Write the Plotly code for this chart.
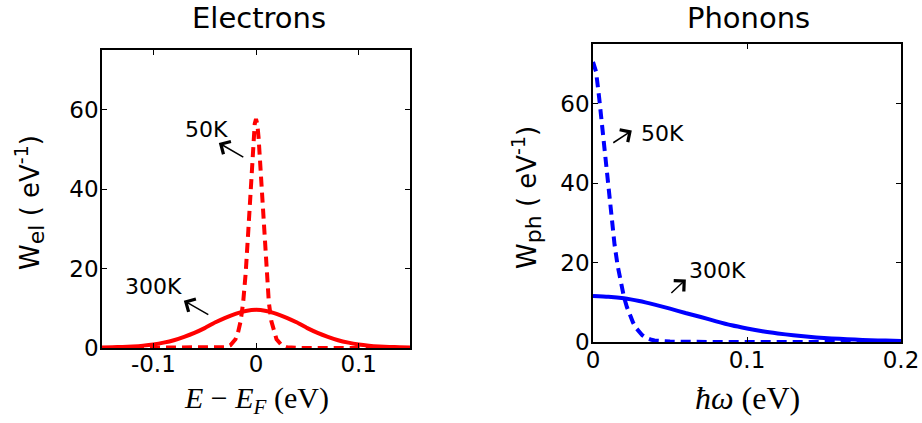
import plotly.graph_objects as go

# ---------------- data ----------------
# Electrons, 50 K (dashed)
e50_E = [-0.15, -0.06, -0.04, -0.03, -0.025, -0.02, -0.0175, -0.015, -0.0125, -0.01,
         -0.0075, -0.005, -0.0025, -0.00125, 0.0, 0.00125, 0.0025, 0.005, 0.0075, 0.01,
         0.0125, 0.015, 0.0175, 0.02, 0.025, 0.03, 0.04, 0.06, 0.15]
e50_W = [0.0, 0.0, 0.03, 0.22, 0.7, 2.2, 3.9, 6.7, 11.5, 19.0,
         29.5, 42.0, 53.0, 56.4, 57.6, 56.4, 53.0, 42.0, 29.5, 19.0,
         11.5, 6.7, 3.9, 2.2, 0.7, 0.22, 0.03, 0.0, 0.0]

# Electrons, 300 K (solid)
e300_E = [-0.15, -0.14, -0.13, -0.12, -0.11, -0.10, -0.09, -0.08, -0.07, -0.06, -0.05,
          -0.04, -0.03, -0.02, -0.01, 0.0, 0.01, 0.02, 0.03, 0.04, 0.05,
          0.06, 0.07, 0.08, 0.09, 0.10, 0.11, 0.12, 0.13, 0.14, 0.15]
e300_W = [0.12, 0.18, 0.27, 0.4, 0.6, 0.9, 1.35, 1.95, 2.8, 3.8, 5.0,
          6.4, 7.6, 8.6, 9.3, 9.6, 9.3, 8.6, 7.6, 6.4, 5.0,
          3.8, 2.8, 1.95, 1.35, 0.9, 0.6, 0.4, 0.27, 0.18, 0.12]

# Phonons, 50 K (dashed)
p50_E = [0.0, 0.002, 0.004, 0.006, 0.008, 0.010, 0.012, 0.014, 0.016, 0.018, 0.020,
         0.022, 0.024, 0.026, 0.028, 0.030, 0.032, 0.034, 0.036, 0.038, 0.040,
         0.045, 0.050, 0.060, 0.080, 0.200]
p50_W = [70.5, 68.0, 61.5, 54.0, 46.5, 39.0, 30.5, 24.5, 19.2, 15.0, 11.5,
         8.8, 6.6, 4.9, 3.5, 2.5, 1.7, 1.15, 0.8, 0.55, 0.4,
         0.2, 0.1, 0.05, 0.0, 0.0]

# Phonons, 300 K (solid)
p300_E = [0.0, 0.01, 0.02, 0.03, 0.04, 0.05, 0.06, 0.07, 0.08, 0.09, 0.10,
          0.11, 0.12, 0.13, 0.14, 0.15, 0.16, 0.17, 0.18, 0.19, 0.20]
p300_W = [11.6, 11.4, 11.0, 10.3, 9.4, 8.4, 7.3, 6.3, 5.2, 4.2, 3.4,
          2.7, 2.15, 1.7, 1.3, 1.0, 0.8, 0.6, 0.45, 0.35, 0.28]

el_xticks = [-0.1, 0, 0.1]
el_xticktext = ["-0.1", "0", "0.1"]
ph_xticks = [0, 0.1, 0.2]
ph_xticktext = ["0", "0.1", "0.2"]
yticks = [0, 20, 40, 60]
yticktext = ["0", "20", "40", "60"]

# ---------------- figure ----------------
W, H = 922, 423
SANS = "DejaVu Sans"
SERIF = "Liberation Serif"
RED = "#ff0000"
BLUE = "#0000ff"
DASH = "10px,6px"
LW = 4

fig = go.Figure()
fig.add_trace(go.Scatter(x=e300_E, y=e300_W, mode="lines", xaxis="x", yaxis="y",
                         line=dict(color=RED, width=LW, shape="spline", smoothing=0.6)))
fig.add_trace(go.Scatter(x=e50_E, y=e50_W, mode="lines", xaxis="x", yaxis="y",
                         line=dict(color=RED, width=LW, dash=DASH)))
fig.add_trace(go.Scatter(x=p300_E, y=p300_W, mode="lines", xaxis="x2", yaxis="y2",
                         line=dict(color=BLUE, width=LW, shape="spline", smoothing=0.6)))
fig.add_trace(go.Scatter(x=p50_E, y=p50_W, mode="lines", xaxis="x2", yaxis="y2",
                         line=dict(color=BLUE, width=LW, dash=DASH)))

axis_common = dict(showline=True, mirror="allticks", linecolor="black", linewidth=1.5,
                   ticks="inside", ticklen=5, tickwidth=1.2, tickcolor="black",
                   showgrid=False, zeroline=False, automargin=False,
                   tickfont=dict(family=SANS, size=23, color="black"))

fig.update_layout(
    template=None,
    width=W, height=H, autosize=False, margin=dict(l=0, r=0, t=0, b=0, pad=0),
    paper_bgcolor="white", plot_bgcolor="white", showlegend=False,
    xaxis=dict(domain=[102 / W, 410 / W], range=[-0.15, 0.15], anchor="y",
               tickvals=el_xticks, ticktext=el_xticktext, ticklabelstandoff=-5, **axis_common),
    yaxis=dict(domain=[(H - 348) / H, (H - 50) / H], range=[0, 75], anchor="x",
               tickvals=yticks, ticktext=yticktext, ticklabelstandoff=-3, **axis_common),
    xaxis2=dict(domain=[593 / W, 901 / W], range=[0, 0.2], anchor="y2",
                tickvals=ph_xticks, ticktext=ph_xticktext, ticklabelstandoff=-3, **axis_common),
    yaxis2=dict(domain=[(H - 342) / H, (H - 44) / H], range=[0, 75], anchor="x2",
                tickvals=yticks, ticktext=yticktext, ticklabelstandoff=-3, **axis_common),
)

ann = []
# panel titles
ann.append(dict(text="Electrons", x=259 / W, y=(H - 17.5) / H, xref="paper", yref="paper",
                showarrow=False, xanchor="center", yanchor="middle",
                font=dict(family=SANS, size=29, color="black")))
ann.append(dict(text="Phonons", x=748 / W, y=(H - 17.5) / H, xref="paper", yref="paper",
                showarrow=False, xanchor="center", yanchor="middle",
                font=dict(family=SANS, size=29, color="black")))
# y-axis titles
ann.append(dict(text="W<sub><span style='font-size:22px'>el</span></sub> ( eV<sup><span style='font-size:19px'>-1</span></sup>)",
                x=29 / W, y=(H - 203) / H,
                xref="paper", yref="paper", showarrow=False, textangle=-90,
                xanchor="center", yanchor="middle",
                font=dict(family=SANS, size=26, color="black")))
ann.append(dict(text="W<sub><span style='font-size:22px'>ph</span></sub> ( eV<sup><span style='font-size:19px'>-1</span></sup>)",
                x=526 / W, y=(H - 198) / H,
                xref="paper", yref="paper", showarrow=False, textangle=-90,
                xanchor="center", yanchor="middle",
                font=dict(family=SANS, size=26, color="black")))
# x-axis titles
ann.append(dict(text="<i>E</i> − <i>E</i><sub><i>F</i></sub> (eV)", x=256 / W, y=(H - 400) / H,
                xref="paper", yref="paper", showarrow=False, xanchor="center", yanchor="middle",
                font=dict(family=SERIF, size=30, color="black")))
ann.append(dict(text="<i>ħω</i> (eV)", x=747 / W, y=(H - 398) / H,
                xref="paper", yref="paper", showarrow=False, xanchor="center", yanchor="middle",
                font=dict(family=SERIF, size=32, color="black")))

# curve labels
lab_font = dict(family=SANS, size=22, color="black")
ann.append(dict(text="50K", x=-0.048, y=55.1, xref="x", yref="y", showarrow=False, font=lab_font))
ann.append(dict(text="300K", x=-0.0996, y=15.5, xref="x", yref="y", showarrow=False, font=lab_font))
ann.append(dict(text="50K", x=0.0453, y=52.4, xref="x2", yref="y2", showarrow=False, font=lab_font))
ann.append(dict(text="300K", x=0.0811, y=18.0, xref="x2", yref="y2", showarrow=False, font=lab_font))

# arrows (head at x,y ; tail at ax,ay)
arrow_style = dict(text="", showarrow=True, arrowhead=4, arrowsize=1.9, arrowwidth=1.5,
                   arrowcolor="black", standoff=0, startstandoff=0)
ann.append(dict(x=-0.0362, y=51.6, ax=-0.0109, ay=47.8, xref="x", yref="y",
                axref="x", ayref="y", **arrow_style))
ann.append(dict(x=-0.0703, y=11.9, ax=-0.045, ay=8.2, xref="x", yref="y",
                axref="x", ayref="y", **arrow_style))
ann.append(dict(x=0.0252, y=53.2, ax=0.0122, ay=49.9, xref="x2", yref="y2",
                axref="x2", ayref="y2", **arrow_style))
ann.append(dict(x=0.0603, y=15.75, ax=0.0499, ay=12.0, xref="x2", yref="y2",
                axref="x2", ayref="y2", **arrow_style))

fig.update_layout(annotations=ann)
fig.write_html("out.html", config={"responsive": False})
